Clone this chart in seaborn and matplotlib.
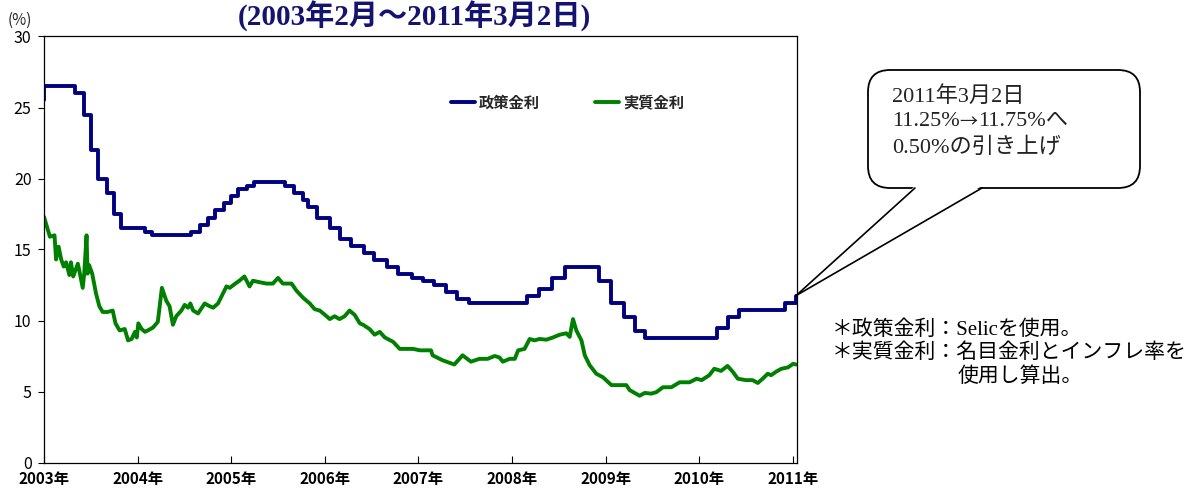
import matplotlib
matplotlib.use("Agg")
import matplotlib.pyplot as plt
import matplotlib.dates as mdates
from matplotlib.patches import FancyBboxPatch, Polygon
from matplotlib.lines import Line2D
from matplotlib.transforms import IdentityTransform
import seaborn as sns
import pandas as pd

# ---------------- data ----------------
policy_dates = [
    "2003-02-18", "2003-02-19", "2003-06-18", "2003-07-23", "2003-08-20", "2003-09-17",
    "2003-10-22", "2003-11-19", "2003-12-17", "2004-03-17", "2004-04-14", "2004-09-15",
    "2004-10-20", "2004-11-17", "2004-12-15", "2005-01-19", "2005-02-16", "2005-03-16",
    "2005-04-20", "2005-05-18", "2005-09-14", "2005-10-19", "2005-11-23", "2005-12-14",
    "2006-01-18", "2006-03-08", "2006-04-19", "2006-05-31", "2006-07-19", "2006-08-30",
    "2006-10-18", "2006-11-29", "2007-01-24", "2007-03-07", "2007-04-18", "2007-06-06",
    "2007-07-18", "2007-09-05", "2008-04-16", "2008-06-04", "2008-07-23", "2008-09-10",
    "2009-01-21", "2009-03-11", "2009-04-29", "2009-06-10", "2009-07-22", "2010-04-28",
    "2010-06-09", "2010-07-21", "2011-01-19", "2011-03-02",
]
policy_rate = [
    25.50, 26.50, 26.00, 24.50, 22.00, 20.00,
    19.00, 17.50, 16.50, 16.25, 16.00, 16.25,
    16.75, 17.25, 17.75, 18.25, 18.75, 19.25,
    19.50, 19.75, 19.50, 19.00, 18.50, 18.00,
    17.25, 16.50, 15.75, 15.25, 14.75, 14.25,
    13.75, 13.25, 13.00, 12.75, 12.50, 12.00,
    11.50, 11.25, 11.75, 12.25, 13.00, 13.75,
    12.75, 11.25, 10.25, 9.25, 8.75, 9.50,
    10.25, 10.75, 11.25, 11.75,
]

real_dates = [
    "2003-02-18", "2003-03-13", "2003-03-31", "2003-04-06", "2003-04-16", "2003-04-26",
    "2003-05-06", "2003-05-15", "2003-05-28", "2003-06-03", "2003-06-12", "2003-06-30",
    "2003-07-06", "2003-07-19", "2003-07-25", "2003-08-03", "2003-08-07", "2003-08-13",
    "2003-08-25", "2003-09-09", "2003-09-22", "2003-10-05", "2003-10-24", "2003-11-13",
    "2003-11-24", "2003-12-10", "2003-12-30", "2004-01-12", "2004-01-26", "2004-02-08",
    "2004-02-15", "2004-02-21", "2004-03-05", "2004-03-18", "2004-03-29", "2004-04-18",
    "2004-05-07", "2004-05-23", "2004-06-09", "2004-06-22", "2004-07-05", "2004-07-18",
    "2004-08-07", "2004-08-20", "2004-09-02", "2004-09-11", "2004-09-22", "2004-10-11",
    "2004-11-06", "2004-11-26", "2004-12-09", "2004-12-28", "2005-01-16", "2005-01-30",
    "2005-02-12", "2005-02-26", "2005-03-21", "2005-04-10", "2005-04-30", "2005-05-13",
    "2005-06-07", "2005-07-05", "2005-07-30", "2005-08-19", "2005-09-07", "2005-10-11",
    "2005-10-30", "2005-11-25", "2005-12-21", "2006-01-09", "2006-01-29", "2006-02-18",
    "2006-03-09", "2006-03-28", "2006-04-16", "2006-05-06", "2006-05-25", "2006-06-14",
    "2006-07-04", "2006-07-17", "2006-08-11", "2006-08-31", "2006-09-20", "2006-10-10",
    "2006-11-11", "2006-12-07", "2007-01-02", "2007-01-28", "2007-02-24", "2007-04-08",
    "2007-04-14", "2007-05-23", "2007-07-08", "2007-08-09", "2007-09-11", "2007-10-14",
    "2007-11-15", "2007-12-12", "2007-12-31", "2008-01-13", "2008-02-09", "2008-02-29",
    "2008-03-13", "2008-04-07", "2008-04-27", "2008-05-16", "2008-06-04", "2008-07-01",
    "2008-07-26", "2008-08-22", "2008-09-17", "2008-09-30", "2008-10-13", "2008-10-26",
    "2008-11-15", "2008-11-28", "2008-12-17", "2009-01-12", "2009-02-07", "2009-03-12",
    "2009-04-12", "2009-05-09", "2009-05-22", "2009-06-30", "2009-07-20", "2009-08-14",
    "2009-09-03", "2009-09-29", "2009-11-01", "2009-12-03", "2010-01-11", "2010-02-07",
    "2010-02-27", "2010-03-29", "2010-04-17", "2010-05-14", "2010-06-08", "2010-06-28",
    "2010-07-18", "2010-08-19", "2010-09-14", "2010-10-04", "2010-10-23", "2010-11-12",
    "2010-11-25", "2010-12-15", "2011-01-04", "2011-01-30", "2011-02-19", "2011-03-02",
]
real_rate = [
    17.3, 15.9, 16.0, 14.3, 15.2, 14.3,
    13.8, 14.1, 13.2, 14.1, 13.1, 14.0,
    13.5, 12.3, 13.3, 16.0, 13.3, 13.9,
    13.3, 11.9, 11.0, 10.6, 10.6, 10.7,
    9.8, 9.3, 9.4, 8.6, 8.7, 9.2,
    8.8, 9.8, 9.4, 9.2, 9.3, 9.5,
    9.9, 12.3, 11.4, 11.0, 9.7, 10.3,
    10.7, 11.1, 10.9, 11.2, 10.7, 10.5,
    11.2, 11.0, 10.9, 11.2, 11.9, 12.4,
    12.3, 12.5, 12.8, 13.1, 12.4, 12.8,
    12.7, 12.6, 12.6, 13.0, 12.6, 12.6,
    12.1, 11.6, 11.2, 10.8, 10.7, 10.4,
    10.1, 10.3, 10.1, 10.3, 10.7, 10.4,
    9.8, 9.7, 9.4, 9.0, 9.2, 8.8,
    8.5, 8.0, 8.0, 8.0, 7.9, 7.9,
    7.55, 7.2, 6.9, 7.55, 7.1, 7.3,
    7.3, 7.5, 7.4, 7.1, 7.3, 7.3,
    7.9, 8.0, 8.7, 8.6, 8.7, 8.65,
    8.8, 9.0, 9.1, 8.85, 10.1, 9.3,
    8.6, 7.55, 6.85, 6.25, 6.0, 5.45,
    5.45, 5.45, 5.1, 4.7, 4.9, 4.85,
    4.95, 5.3, 5.3, 5.65, 5.65, 5.9,
    5.8, 6.15, 6.6, 6.45, 6.8, 6.4,
    5.9, 5.8, 5.8, 5.6, 5.9, 6.25,
    6.15, 6.4, 6.6, 6.7, 6.95, 6.9,
]

series_labels = ["政策金利", "実質金利"]
year_labels = ["2003年", "2004年", "2005年", "2006年", "2007年",
               "2008年", "2009年", "2010年", "2011年"]
y_ticks = [0, 5, 10, 15, 20, 25, 30]
title_text = "(2003年2月～2011年3月2日)"
unit_text = "(%)"
callout_line1 = "2011年3月2日"
callout_line2 = ["11.25%", "→", "11.75%へ"]
callout_line3 = "0.50%の引き上げ"
note_lines = ["＊政策金利：Selicを使用。", "＊実質金利：名目金利とインフレ率を", "使用し算出。"]

# ---------------- style ----------------
sns.set_style("white")
plt.rcParams['font.family'] = ['Noto Sans CJK JP', 'DejaVu Sans']
SERIF = ['Liberation Serif', 'Noto Sans CJK JP']
CJK = ['Noto Sans CJK JP']

NAVY = "#000080"
GREEN = "#008000"

W, H = 1192, 490
fig = plt.figure(figsize=(W / 100, H / 100), dpi=100)
ax = fig.add_axes([44 / W, 1 - 462.5 / H, (797 - 44) / W, (462.5 - 36.5) / H])

df_pol = pd.DataFrame({"date": pd.to_datetime(policy_dates), "value": policy_rate})
df_real = pd.DataFrame({"date": pd.to_datetime(real_dates), "value": real_rate})

sns.lineplot(data=df_pol, x="date", y="value", ax=ax, color=NAVY, lw=2.8,
             drawstyle="steps-post", label=series_labels[0], legend=False)
sns.lineplot(data=df_real, x="date", y="value", ax=ax, color=GREEN, lw=2.8,
             label=series_labels[1], legend=False)

x0 = pd.Timestamp("2003-02-18")
ax.set_xlim(x0, pd.Timestamp("2011-03-06"))
ax.set_ylim(0, 30)
tick_dates = [pd.Timestamp(f"{2003 + i}-02-18") for i in range(len(year_labels))]
ax.set_xticks(tick_dates)
ax.set_xticklabels(year_labels, fontsize=11, fontweight="bold")
ax.set_yticks(y_ticks)
ax.set_yticklabels([str(v) for v in y_ticks], fontsize=11.5)
ax.set_xlabel("")
ax.set_ylabel("")
ax.tick_params(axis="x", direction="in", length=5, width=0.8, pad=6, colors="black")
ax.tick_params(axis="y", direction="out", length=4, width=0.8, pad=5, colors="black")
ax.tick_params(axis="x", bottom=True)
ax.tick_params(axis="y", left=True)
for s in ax.spines.values():
    s.set_visible(True)
    s.set_color("black")
    s.set_linewidth(0.9)

handles = [Line2D([], [], color=NAVY, lw=2.8), Line2D([], [], color=GREEN, lw=2.8)]
leg = ax.legend(handles, series_labels, loc="center", bbox_to_anchor=(0.695, 0.845),
                ncol=2, frameon=False, handlelength=1.6, handletextpad=0.25,
                columnspacing=3.6, prop={"size": 11, "weight": "bold"})

# title & unit
fig.text(414 / W, 1 - 16 / H, title_text, ha="center", va="center", fontsize=21,
         fontweight="bold", color="#141470", family=SERIF)
fig.text(20 / W, 1 - 20 / H, unit_text, ha="center", va="center", fontsize=11)

# callout bubble (pixel coordinates)
ident = IdentityTransform()
bx0, by_top, bx1, by_bot = 868, 70, 1140, 188
box = FancyBboxPatch((bx0, H - by_bot), bx1 - bx0, by_bot - by_top,
                     boxstyle="round,pad=0,rounding_size=22", transform=ident,
                     facecolor="white", edgecolor="black", lw=1.3, zorder=5)
fig.patches.append(box)
tip = ax.transData.transform((mdates.date2num(pd.Timestamp(policy_dates[-1])), policy_rate[-1]))
b1 = (915, H - by_bot + 2)
b2 = (982, H - by_bot + 2)
tail = Polygon([b1, tuple(tip), b2], closed=True, transform=ident,
               facecolor="white", edgecolor="none", zorder=6)
fig.patches.append(tail)
for b in (b1, b2):
    fig.lines.append(Line2D([b[0], tip[0]], [b[1] - 2, tip[1]], transform=ident,
                            color="black", lw=1.2, zorder=7))

CFS = 16
fig.text(892 / W, 1 - 96 / H, callout_line1, ha="left", va="center",
         fontsize=CFS, color="#222222", family=SERIF, zorder=8)
fig.text(892 / W, 1 - 148 / H, callout_line3, ha="left", va="center",
         fontsize=CFS, color="#222222", family=SERIF, zorder=8)
# line 2 drawn in pieces so that the arrow uses a full-width glyph
renderer = fig.canvas.get_renderer()
xpos = 892
fams = [SERIF, CJK, SERIF]
for piece, fam in zip(callout_line2, fams):
    t = fig.text(xpos / W, 1 - 122 / H, piece, ha="left", va="center",
                 fontsize=CFS if fam is SERIF else CFS - 3, color="#222222",
                 family=fam, zorder=8)
    xpos += t.get_window_extent(renderer).width

note_pos = [(832, 330), (832, 353), (958, 377)]
for (px, py), line in zip(note_pos, note_lines):
    fig.text(px / W, 1 - py / H, line, ha="left", va="center", fontsize=15,
             color="black", family=SERIF)

fig.savefig("out.png", dpi=100, facecolor="white")
